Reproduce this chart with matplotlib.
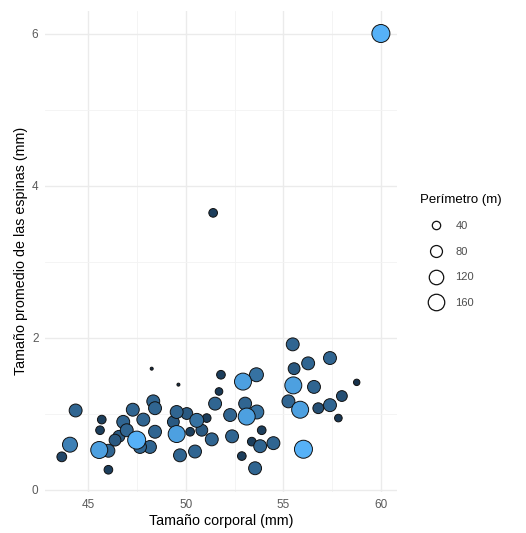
import numpy as np
import matplotlib.pyplot as plt
from matplotlib.colors import LinearSegmentedColormap
from matplotlib.lines import Line2D

# datos
tamano_corporal = [60.0, 51.4, 44.35, 44.06, 43.64, 45.69, 45.6, 45.56, 46.03, 46.03,
                   48.25, 49.62, 47.28, 48.33, 48.42, 46.79, 47.82, 46.97, 46.57, 46.37,
                   47.48, 48.42, 48.16, 47.65, 49.53, 50.05, 50.56, 49.36, 51.07, 49.53,
                   50.22, 50.82, 51.33, 49.70, 50.47, 51.5, 51.7, 51.8, 55.48, 56.27,
                   57.39, 55.55, 58.76, 52.93, 53.62, 55.51, 56.57, 58.0, 55.26, 55.86,
                   56.79, 57.39, 52.27, 53.12, 53.64, 53.04, 57.82, 52.37, 53.89, 53.38,
                   53.81, 54.49, 52.87, 53.55, 56.03]
tamano_espinas = [6.0, 3.64, 1.04, 0.59, 0.43, 0.92, 0.78, 0.52, 0.51, 0.26,
                  1.59, 1.38, 1.05, 1.16, 1.07, 0.89, 0.92, 0.78, 0.70, 0.65,
                  0.65, 0.76, 0.56, 0.56, 1.02, 1.00, 0.91, 0.89, 0.94, 0.73,
                  0.76, 0.78, 0.66, 0.45, 0.50, 1.13, 1.29, 1.51, 1.91, 1.66,
                  1.73, 1.59, 1.41, 1.42, 1.51, 1.37, 1.35, 1.23, 1.16, 1.05,
                  1.07, 1.11, 0.98, 0.96, 1.02, 1.13, 0.94, 0.70, 0.78, 0.63,
                  0.57, 0.61, 0.44, 0.28, 0.53]
perimetro = [230, 49, 111, 153, 62, 49, 49, 202, 111, 49,
             19, 19, 111, 111, 111, 111, 111, 111, 92, 92,
             230, 111, 111, 111, 111, 92, 131, 92, 49, 202,
             49, 92, 111, 111, 111, 111, 39, 49, 111, 111,
             111, 92, 30, 202, 131, 202, 111, 76, 111, 202,
             76, 111, 111, 202, 131, 111, 39, 111, 49, 49,
             111, 111, 49, 111, 230]
legend_breaks = [40, 80, 120, 160]

plt.rcParams['font.family'] = ['Liberation Sans', 'DejaVu Sans']

p_min, p_max = min(perimetro), max(perimetro)


def marker_area(p):
    t = np.clip((np.asarray(p, float) - p_min) / (p_max - p_min), 0, 1)
    d_px = 3 + 15 * np.sqrt(t)
    return (d_px * 0.72) ** 2


cmap = LinearSegmentedColormap.from_list('gg', ['#132B43', '#56B1F7'])

fig = plt.figure(figsize=(5.26, 5.33), dpi=100)
ax = fig.add_axes([45.4 / 526, 1 - 491.8 / 533, (396.5 - 45.4) / 526, (491.8 - 10.7) / 533])

orden = np.argsort(perimetro, kind='stable')
x = np.array(tamano_corporal)[orden]
y = np.array(tamano_espinas)[orden]
p = np.array(perimetro)[orden]
ax.scatter(x, y, s=marker_area(p), c=p, cmap=cmap, vmin=p_min, vmax=p_max,
           edgecolors='#111111', linewidths=0.7, zorder=3)

ax.set_xlim(42.8, 60.8)
ax.set_ylim(-0.03, 6.3)
ax.set_xticks([45, 50, 55, 60])
ax.set_yticks([0, 2, 4, 6])
ax.set_xticks([47.5, 52.5, 57.5], minor=True)
ax.set_yticks([1, 3, 5], minor=True)
ax.grid(which='major', color='#ebebeb', linewidth=1.0)
ax.grid(which='minor', color='#f3f3f3', linewidth=0.6)
ax.set_axisbelow(True)
for s in ax.spines.values():
    s.set_visible(False)
ax.tick_params(which='both', length=0, labelsize=8.5, labelcolor='#5a5a5a', pad=5)
ax.set_xlabel('Tamaño corporal (mm)', fontsize=10.3, labelpad=2)
ax.set_ylabel('Tamaño promedio de las espinas (mm)', fontsize=10.3, labelpad=3)

handles = [Line2D([], [], linestyle='none', marker='o', markersize=np.sqrt(marker_area(b)) * 1.08,
                  markerfacecolor='white', markeredgecolor='#111111', markeredgewidth=0.9)
           for b in legend_breaks]
leg = fig.legend(handles, [str(b) for b in legend_breaks], title='Perímetro (m)',
                 loc='upper left', bbox_to_anchor=(412 / 526, 1 - 186 / 533),
                 frameon=False, fontsize=8, title_fontsize=9.5,
                 labelspacing=1.4, handlelength=2.9, handletextpad=0.3, borderpad=0.2)
leg._legend_box.align = 'left'
for t in leg.get_texts():
    t.set_color('#4d4d4d')

fig.savefig('out.png', dpi=100)
